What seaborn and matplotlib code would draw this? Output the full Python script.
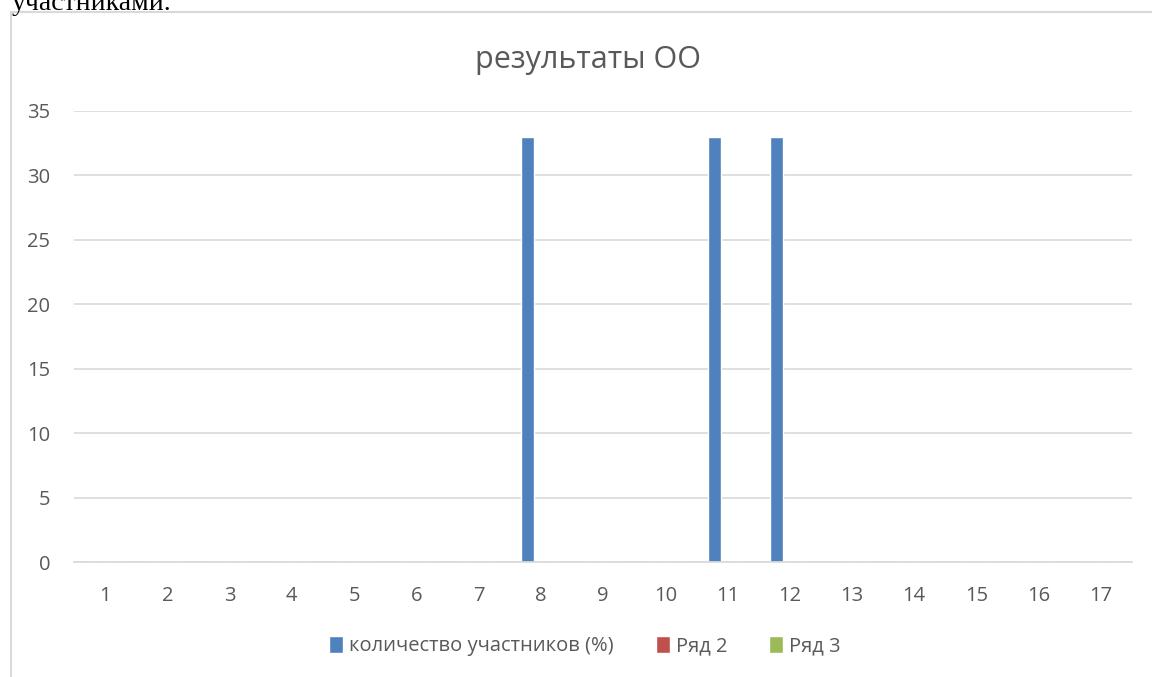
import numpy as np
import matplotlib
matplotlib.use("Agg")
import matplotlib.pyplot as plt
import pandas as pd
import seaborn as sb
from matplotlib.lines import Line2D

categories = [str(i) for i in range(1, 18)]
series_names = ["количество участников (%)", "Ряд 2", "Ряд 3"]
s1 = [0, 0, 0, 0, 0, 0, 0, 33, 0, 0, 33, 33, 0, 0, 0, 0, 0]
s2 = [0] * 17
s3 = [0] * 17
colors = ["#4f81bd", "#c0504d", "#9bbb59"]

df = pd.DataFrame({
    "cat": categories * 3,
    "val": s1 + s2 + s3,
    "series": [series_names[0]] * 17 + [series_names[1]] * 17 + [series_names[2]] * 17,
})

sb.set_style("white")
plt.rcParams["font.family"] = ["Open Sans", "DejaVu Sans"]

fig = plt.figure(figsize=(11.52, 6.77), dpi=100)
ax = fig.add_axes([74 / 1152, 1 - 562 / 677, (1132 - 74) / 1152, (562 - 111) / 677])

sb.barplot(data=df, x="cat", y="val", hue="series", order=categories,
           hue_order=series_names, palette=colors, width=0.64,
           saturation=1, ax=ax, legend=True)

ax.set_ylim(0, 35)
ax.set_yticks(range(0, 36, 5))
ax.set_xlim(-0.5, 16.5)
ax.grid(axis="y", color="#d9d9d9", linewidth=1.2)
ax.set_axisbelow(True)
for side in ["top", "right", "left"]:
    ax.spines[side].set_visible(False)
ax.spines["bottom"].set_color("#d9d9d9")
ax.spines["bottom"].set_linewidth(1.2)
ax.tick_params(axis="both", length=0, labelsize=14.5, labelcolor="#595959")
ax.tick_params(axis="x", pad=17)
ax.tick_params(axis="y", pad=17)
ax.set_xlabel("")
ax.set_ylabel("")

handles, labels = ax.get_legend_handles_labels()
ax.get_legend().remove()
fig.legend(handles, labels, loc="center", bbox_to_anchor=(585 / 1152, 1 - 646 / 677),
           ncol=3, frameon=False, fontsize=14.5, labelcolor="#595959",
           handlelength=0.68, handleheight=0.95, handletextpad=0.3, columnspacing=2.1)

fig.text(588 / 1152, 1 - 60 / 677, "результаты ОО", ha="center", va="center",
         fontsize=22, color="#595959")

# chart frame (partly outside the picture)
fig.add_artist(Line2D([11 / 1152, 11 / 1152, 1.0], [0.0, 1 - 12 / 677, 1 - 12 / 677],
                      transform=fig.transFigure, color="#d9d9d9", linewidth=1.5))

# cropped document text above the chart
fig.text(12 / 1152, 1 - 10 / 677, "участниками.", ha="left", va="baseline",
         fontsize=20, family=["Liberation Serif", "DejaVu Serif"], color="black")

fig.savefig("out.png", dpi=100)
